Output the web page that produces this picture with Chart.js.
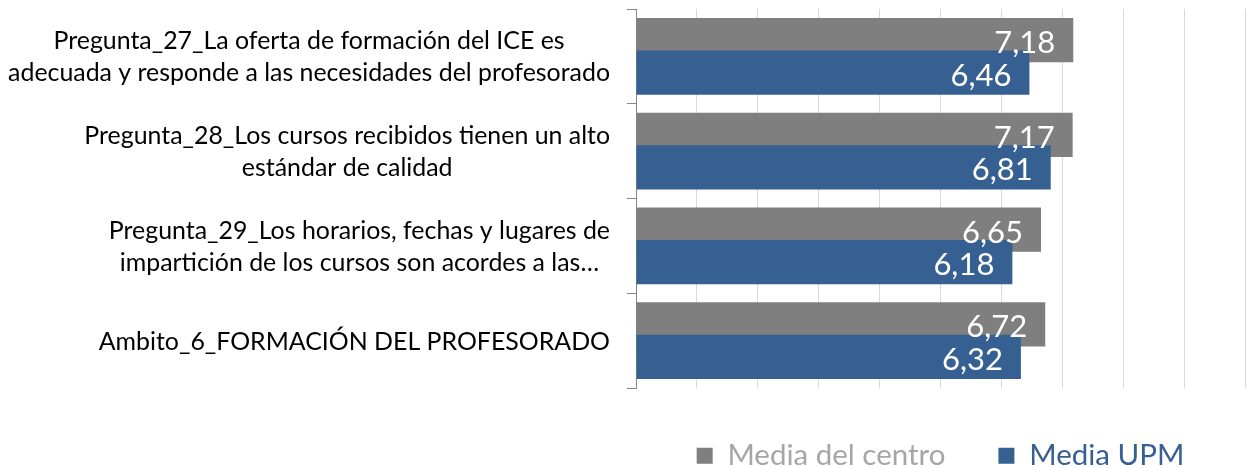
<!DOCTYPE html>
<html>
<head>
<meta charset="utf-8">
<script src="https://cdn.jsdelivr.net/npm/chart.js@4.4.0/dist/chart.umd.min.js"></script>
<style>
    html, body { margin: 0; padding: 0; background: #ffffff; }
    #wrap { width: 1247px; height: 468px; position: relative; }
</style>
</head>
<body>
<div id="wrap"><canvas id="chart"></canvas></div>
<script>
// ---------------------------------------------
// DATA
// ---------------------------------------------
const categories = [
    ["Pregunta_27_La oferta de formación del ICE es", "adecuada y responde a las necesidades del profesorado"],
    ["Pregunta_28_Los cursos recibidos tienen un alto", "estándar de calidad"],
    ["Pregunta_29_Los horarios, fechas y lugares de", "impartición de los cursos son acordes a las…"],
    ["Ambito_6_FORMACIÓN DEL PROFESORADO"]
];
const seriesNames = ["Media del centro", "Media UPM"];
const mediaCentro = [7.18, 7.17, 6.65, 6.72];
const mediaUPM = [6.46, 6.81, 6.18, 6.32];
const axisMin = 0;
const axisMax = 10;
const axisStep = 1;

const GREY = "#7f7f7f";
const BLUE = "#376092";
const legendTextColors = ["#a6a6a6", BLUE];
const FONT = "Lato, 'Open Sans', sans-serif";

const fmt = v => v.toFixed(2).replace(".", ",");

// ---------------------------------------------
// PLUGINS
// ---------------------------------------------
// grey first, blue on top of it (Excel overlap look)
const drawOrder = {
    id: "drawOrder",
    beforeDatasetsDraw(chart) {
        chart.getDatasetMeta(0).controller.draw();
        chart.getDatasetMeta(1).controller.draw();
        return false;
    }
};

// category labels: block right aligned, lines centred inside the block
const categoryLabels = {
    id: "categoryLabels",
    afterDraw(chart) {
        const ctx = chart.ctx;
        const yScale = chart.scales.y;
        const rightEdge = 610;
        const lineGap = 32;
        ctx.save();
        ctx.font = "24.9px " + FONT;
        ctx.fillStyle = "#000000";
        ctx.textAlign = "center";
        ctx.textBaseline = "middle";
        categories.forEach((lines, i) => {
            const blockW = Math.max(...lines.map(l => ctx.measureText(l).width));
            const cx = rightEdge - blockW / 2;
            const cy = yScale.getPixelForValue(i) + 1;
            const y0 = cy - (lines.length - 1) * lineGap / 2;
            lines.forEach((l, j) => ctx.fillText(l, cx, y0 + j * lineGap));
        });
        ctx.restore();
    }
};

// value labels inside the bar end
const valueLabels = {
    id: "valueLabels",
    afterDraw(chart) {
        const ctx = chart.ctx;
        ctx.save();
        ctx.font = "31px " + FONT;
        ctx.fillStyle = "#ffffff";
        ctx.textAlign = "right";
        ctx.textBaseline = "middle";
        chart.data.datasets.forEach((ds, di) => {
            chart.getDatasetMeta(di).data.forEach((bar, i) => {
                ctx.fillText(fmt(ds.data[i]), bar.x - 18, bar.y + 3);
            });
        });
        ctx.restore();
    }
};

// ---------------------------------------------
// CHART
// ---------------------------------------------
new Chart(document.getElementById("chart").getContext("2d"), {
    type: "bar",
    data: {
        labels: categories,
        datasets: [
            {
                label: seriesNames[0],
                data: mediaCentro,
                backgroundColor: GREY,
                borderWidth: 0,
                categoryPercentage: 0.686,
                barPercentage: 1.354
            },
            {
                label: seriesNames[1],
                data: mediaUPM,
                backgroundColor: BLUE,
                borderWidth: 0,
                categoryPercentage: 0.686,
                barPercentage: 1.354
            }
        ]
    },
    options: {
        indexAxis: "y",
        responsive: true,
        maintainAspectRatio: false,
        animation: false,
        layout: { padding: { top: 9, right: 2, left: 0, bottom: 0 } },
        plugins: {
            tooltip: { enabled: false },
            legend: {
                display: true,
                position: "bottom",
                fullSize: false,
                maxHeight: 80,
                labels: {
                    font: { family: FONT, size: 29.5 },
                    boxWidth: 16,
                    boxHeight: 16,
                    padding: 53,
                    generateLabels(chart) {
                        const items = Chart.defaults.plugins.legend.labels.generateLabels(chart);
                        items.forEach((it, i) => {
                            it.fontColor = legendTextColors[i];
                            it.lineWidth = 0;
                        });
                        return items;
                    }
                }
            }
        },
        scales: {
            x: {
                min: axisMin,
                max: axisMax,
                ticks: { display: false, stepSize: axisStep },
                grid: { color: "#d9d9d9", lineWidth: 1, drawTicks: false },
                border: { display: false },
                afterFit(s) { s.height = 0; }
            },
            y: {
                ticks: { display: false },
                grid: {
                    offset: true,
                    drawOnChartArea: false,
                    drawTicks: true,
                    tickLength: 9,
                    color: "#868686"
                },
                border: { display: true, color: "#868686", width: 1 },
                afterFit(s) { s.width = 636; }
            }
        }
    },
    plugins: [drawOrder, categoryLabels, valueLabels]
});
</script>
</body>
</html>
